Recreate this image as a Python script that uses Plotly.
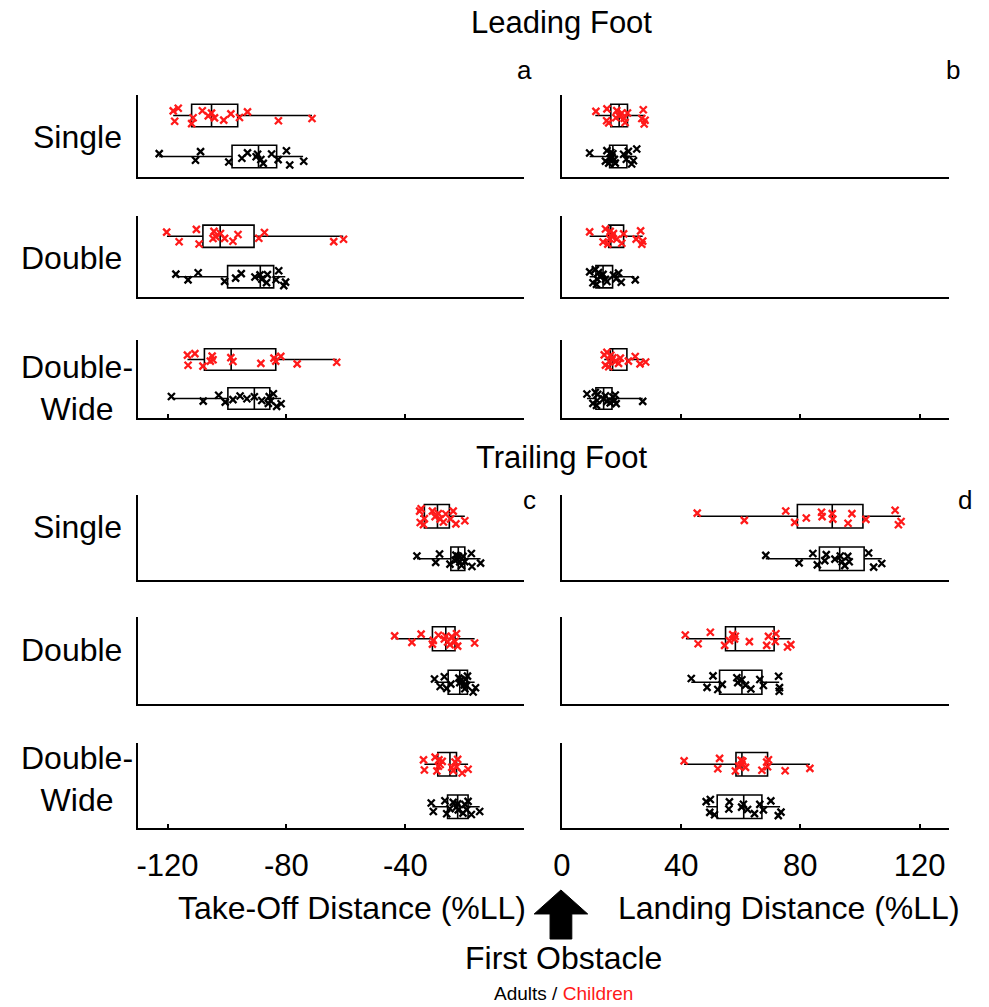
import plotly.graph_objects as go

# ---------------- data (values in %LL) ----------------
conditions = ["Single", "Double", "Double-<br>Wide"]
groups = ["Adults", "Children"]

# Leading foot, take-off distance (panel a)
a_single_children = [-118.1, -117.6, -116.4, -111.9, -111.4, -108.3, -106.3, -105.2, -104.2, -101.1, -98.7, -95.8, -93.1, -82.7, -71.4]
a_single_adults = [-122.8, -110.6, -108.9, -99.4, -95.0, -93.1, -90.2, -89.7, -88.6, -87.8, -85.0, -82.8, -80.0, -78.9, -74.2]
a_double_children = [-120.3, -116.1, -110.3, -109.4, -104.7, -104.4, -103.8, -102.2, -100.8, -98.0, -96.3, -89.3, -87.4, -64.1, -60.8]
a_double_adults = [-117.2, -113.1, -109.7, -100.8, -97.1, -95.2, -90.6, -88.9, -88.3, -86.7, -86.4, -83.5, -82.6, -80.9, -80.3]
a_wide_children = [-113.3, -113.1, -110.8, -108.1, -105.6, -105.0, -104.7, -98.7, -98.0, -88.6, -84.2, -83.6, -81.9, -76.4, -63.1]
a_wide_adults = [-118.7, -108.0, -102.8, -100.6, -98.0, -95.6, -93.3, -90.8, -88.3, -86.1, -85.8, -85.3, -84.4, -83.3, -81.8]

# Leading foot, landing distance (panel b)
b_single_children = [11.4, 15.0, 15.1, 15.7, 18.1, 18.4, 19.2, 20.1, 20.9, 21.2, 22.0, 26.8, 27.3, 27.6, 27.9]
b_single_adults = [9.3, 14.6, 15.1, 15.7, 16.2, 16.4, 16.8, 17.1, 17.6, 17.9, 20.7, 21.6, 22.3, 23.4, 24.0, 25.1]
b_double_children = [9.3, 13.8, 14.6, 15.4, 16.0, 16.2, 16.8, 17.3, 18.4, 20.1, 20.7, 24.9, 26.4, 26.8, 27.1]
b_double_adults = [9.3, 10.4, 11.2, 11.6, 11.8, 12.3, 12.9, 13.8, 14.6, 15.1, 17.3, 18.2, 19.0, 19.9, 24.6]
b_wide_children = [14.2, 14.6, 15.1, 15.7, 16.0, 16.4, 16.8, 17.1, 17.9, 19.0, 19.6, 22.3, 24.6, 26.2, 28.1]
b_wide_adults = [8.4, 10.4, 11.2, 11.6, 11.8, 12.0, 14.0, 14.6, 15.1, 16.2, 17.1, 17.6, 17.9, 18.2, 27.1]

# Trailing foot, take-off distance (panel c)
c_single_children = [-35.2, -35.0, -34.7, -33.9, -33.6, -30.9, -30.0, -28.9, -28.3, -27.2, -26.4, -24.8, -23.9, -23.0, -20.0]
c_single_adults = [-36.1, -29.8, -28.5, -25.0, -23.3, -23.0, -22.6, -22.2, -21.7, -21.1, -20.6, -20.0, -17.8, -17.6, -14.7]
c_double_children = [-43.6, -37.8, -34.7, -30.9, -30.6, -28.9, -26.9, -26.4, -25.8, -25.0, -24.4, -23.3, -22.8, -22.4, -16.7]
c_double_adults = [-30.2, -28.3, -26.9, -26.1, -24.7, -22.0, -21.7, -21.3, -20.2, -20.0, -19.8, -19.4, -19.1, -17.2, -16.4]
c_wide_children = [-33.9, -33.6, -30.0, -29.4, -28.9, -28.7, -28.3, -27.6, -24.4, -23.9, -23.3, -22.8, -22.4, -20.9, -18.9]
c_wide_adults = [-31.3, -30.6, -26.7, -26.1, -25.0, -23.9, -22.8, -22.4, -22.2, -20.6, -20.0, -19.4, -18.9, -17.8, -15.0]

# Trailing foot, landing distance (panel d)
d_single_children = [45.4, 61.2, 75.1, 78.1, 82.0, 87.1, 87.3, 90.7, 90.9, 96.0, 97.3, 102.0, 111.8, 112.9, 113.8]
d_single_adults = [68.4, 79.6, 84.2, 85.7, 88.2, 88.7, 91.6, 93.4, 94.0, 94.9, 95.9, 96.4, 102.9, 104.6, 107.3]
d_double_children = [41.4, 45.7, 49.8, 54.6, 56.2, 57.3, 57.9, 58.2, 62.9, 68.7, 69.3, 71.6, 71.8, 75.7, 76.8]
d_double_adults = [43.4, 48.7, 50.7, 52.3, 53.8, 58.7, 59.0, 60.4, 61.6, 63.4, 66.4, 67.6, 72.7, 72.9, 73.0]
d_wide_children = [41.0, 52.3, 52.9, 58.2, 59.3, 60.1, 60.4, 60.7, 61.6, 67.1, 68.7, 69.0, 69.3, 74.9, 83.2]
d_wide_adults = [48.4, 49.6, 49.8, 51.2, 56.0, 56.2, 60.3, 60.9, 62.3, 64.6, 66.4, 67.6, 70.1, 72.6, 73.5]

# Box statistics: [lower whisker, Q1, median, Q3, upper whisker]
a_single_children_box = [-118.1, -111.9, -105.2, -96.4, -71.4]
a_single_adults_box = [-122.8, -98.3, -89.4, -83.3, -74.4]
a_double_children_box = [-120.2, -108.1, -102.3, -90.9, -60.9]
a_double_adults_box = [-117.0, -99.8, -88.8, -84.3, -80.4]
a_wide_children_box = [-113.3, -107.6, -98.6, -83.6, -63.1]
a_wide_adults_box = [-118.5, -99.7, -90.8, -85.6, -81.8]

b_single_children_box = [11.2, 16.4, 19.2, 22.0, 27.6]
b_single_adults_box = [9.3, 16.0, 17.1, 21.8, 24.9]
b_double_children_box = [9.3, 15.7, 16.4, 20.7, 27.1]
b_double_adults_box = [9.3, 11.4, 13.8, 17.0, 24.3]
b_wide_children_box = [14.2, 16.2, 17.0, 21.8, 27.7]
b_wide_adults_box = [8.4, 11.4, 14.0, 16.8, 27.1]

c_single_children_box = [-35.0, -33.6, -29.2, -25.2, -20.0]
c_single_adults_box = [-36.1, -24.7, -22.2, -20.0, -14.7]
c_double_children_box = [-43.3, -30.9, -26.4, -23.3, -16.7]
c_double_adults_box = [-30.2, -25.6, -21.7, -19.1, -16.7]
c_wide_children_box = [-33.6, -29.1, -25.0, -22.8, -18.9]
c_wide_adults_box = [-30.9, -25.8, -22.4, -18.9, -15.0]

d_single_children_box = [45.4, 79.0, 90.7, 101.0, 113.7]
d_single_adults_box = [68.4, 86.4, 93.2, 101.4, 107.3]
d_double_children_box = [41.6, 54.9, 58.2, 71.2, 76.8]
d_double_adults_box = [43.4, 52.9, 60.4, 67.1, 72.9]
d_wide_children_box = [41.0, 58.4, 60.4, 69.0, 83.2]
d_wide_adults_box = [48.4, 52.1, 61.0, 67.1, 73.2]

left_ticks = [-120, -80, -40, 0]
left_ticktext = ["-120", "-80", "-40", ""]
right_ticks = [0, 40, 80, 120]
right_ticktext = ["0", "40", "80", "120"]

# ---------------- layout helpers ----------------
W, H = 989, 1007
def px_x(p): return p / W
def px_y(p): return 1 - p / H

col_domains = [[px_x(130), px_x(520)], [px_x(558), px_x(949)]]
col_ranges = [[-130, 0], [0, 130]]
row_px = [(95, 177), (216, 297), (340, 418), (495, 580), (617, 704), (743, 828)]

panels = [
    # row, col, children, adults, children box, adults box
    (0, 0, a_single_children, a_single_adults, a_single_children_box, a_single_adults_box),
    (1, 0, a_double_children, a_double_adults, a_double_children_box, a_double_adults_box),
    (2, 0, a_wide_children, a_wide_adults, a_wide_children_box, a_wide_adults_box),
    (0, 1, b_single_children, b_single_adults, b_single_children_box, b_single_adults_box),
    (1, 1, b_double_children, b_double_adults, b_double_children_box, b_double_adults_box),
    (2, 1, b_wide_children, b_wide_adults, b_wide_children_box, b_wide_adults_box),
    (3, 0, c_single_children, c_single_adults, c_single_children_box, c_single_adults_box),
    (4, 0, c_double_children, c_double_adults, c_double_children_box, c_double_adults_box),
    (5, 0, c_wide_children, c_wide_adults, c_wide_children_box, c_wide_adults_box),
    (3, 1, d_single_children, d_single_adults, d_single_children_box, d_single_adults_box),
    (4, 1, d_double_children, d_double_adults, d_double_children_box, d_double_adults_box),
    (5, 1, d_wide_children, d_wide_adults, d_wide_children_box, d_wide_adults_box),
]

FONT = "Liberation Sans, Arial, sans-serif"
RED = "#ff1a1a"
BOXW = 0.55
fig = go.Figure()
layout_axes = {}

for row, col, ch, ad, chb, adb in panels:
    k = row * 2 + col + 1
    xa = "x" if k == 1 else f"x{k}"
    ya = "y" if k == 1 else f"y{k}"
    for pts, st, pos, color in ((ch, chb, 1.5, RED), (ad, adb, 0.5, "black")):
        fig.add_trace(go.Box(
            y=[pos], q1=[st[1]], median=[st[2]], q3=[st[3]],
            lowerfence=[st[0]], upperfence=[st[4]],
            orientation="h", width=BOXW, boxpoints=False, whiskerwidth=0,
            line=dict(color="black", width=1.6), fillcolor="rgba(0,0,0,0)",
            xaxis=xa, yaxis=ya, showlegend=False, hoverinfo="skip"))
        fig.add_trace(go.Box(
            x=pts, y0=pos, orientation="h", width=BOXW,
            boxpoints="all", jitter=0.85, pointpos=0,
            line=dict(color="rgba(0,0,0,0)", width=0), fillcolor="rgba(0,0,0,0)",
            marker=dict(symbol="x-thin", size=7, color=color,
                        line=dict(width=2.3, color=color)),
            xaxis=xa, yaxis=ya, showlegend=False))
    top, bot = row_px[row]
    xname = "xaxis" if k == 1 else f"xaxis{k}"
    yname = "yaxis" if k == 1 else f"yaxis{k}"
    tick_row = row in (2, 5)
    label_row = row == 5
    layout_axes[xname] = dict(
        domain=col_domains[col], range=col_ranges[col], anchor=ya,
        showline=True, linecolor="black", linewidth=2, showgrid=False, zeroline=False,
        ticks="inside" if tick_row else "", ticklen=4, tickwidth=1.5, tickcolor="black",
        tickmode="array",
        tickvals=left_ticks if col == 0 else right_ticks,
        ticktext=left_ticktext if col == 0 else right_ticktext,
        showticklabels=label_row, ticklabelstandoff=9,
        tickfont=dict(family=FONT, size=31, color="black"), fixedrange=True)
    layout_axes[yname] = dict(
        domain=[px_y(bot), px_y(top)], range=[0, 2], anchor=xa,
        showline=True, linecolor="black", linewidth=2, showgrid=False, zeroline=False,
        showticklabels=False, ticks="", fixedrange=True)

fig.update_layout(**layout_axes)

annotations = []
def add_text(text, x, y, size, xanchor="center", align="center"):
    annotations.append(dict(text=text, x=px_x(x), y=px_y(y), xref="paper", yref="paper",
                            xanchor=xanchor, yanchor="middle", align=align, showarrow=False,
                            font=dict(family=FONT, size=size, color="black")))

add_text("Leading Foot", 558, 22, 31)
add_text("Trailing Foot", 558, 458, 31)
add_text("a", 520, 70, 26)
add_text("b", 953, 70, 26)
add_text("c", 525, 500, 26)
add_text("d", 965, 500, 26)
row_label_y = [137, 258, 388, 527, 650, 779]
row_label_x = [69, 63, 68.5]
for i, yy in enumerate(row_label_y):
    add_text(conditions[i % 3], row_label_x[i % 3], yy, 32)
add_text("Take-Off Distance (%LL)", 524, 908, 32, xanchor="right")
add_text("Landing Distance (%LL)", 613, 908, 32, xanchor="left")
add_text("First Obstacle", 560, 958, 32)
add_text(f"{groups[0]} / <span style='color:{RED}'>{groups[1]}</span>", 560, 993, 19)

arrow = [(557, 890), (584, 914), (568, 914), (568, 939), (546, 939), (546, 914), (530, 914)]
path = "M " + " L ".join(f"{px_x(a):.4f},{px_y(b):.4f}" for a, b in arrow) + " Z"

fig.update_layout(
    width=W, height=H, margin=dict(l=0, r=0, t=0, b=0),
    paper_bgcolor="white", plot_bgcolor="white", boxmode="overlay",
    showlegend=False, annotations=annotations,
    shapes=[dict(type="path", path=path, xref="paper", yref="paper",
                 fillcolor="black", line=dict(color="black", width=1))],
    font=dict(family=FONT, color="black"))

fig.write_html("out.html", config={"displayModeBar": False},
               post_script="document.body.style.margin='0';document.body.style.overflow='hidden';")
